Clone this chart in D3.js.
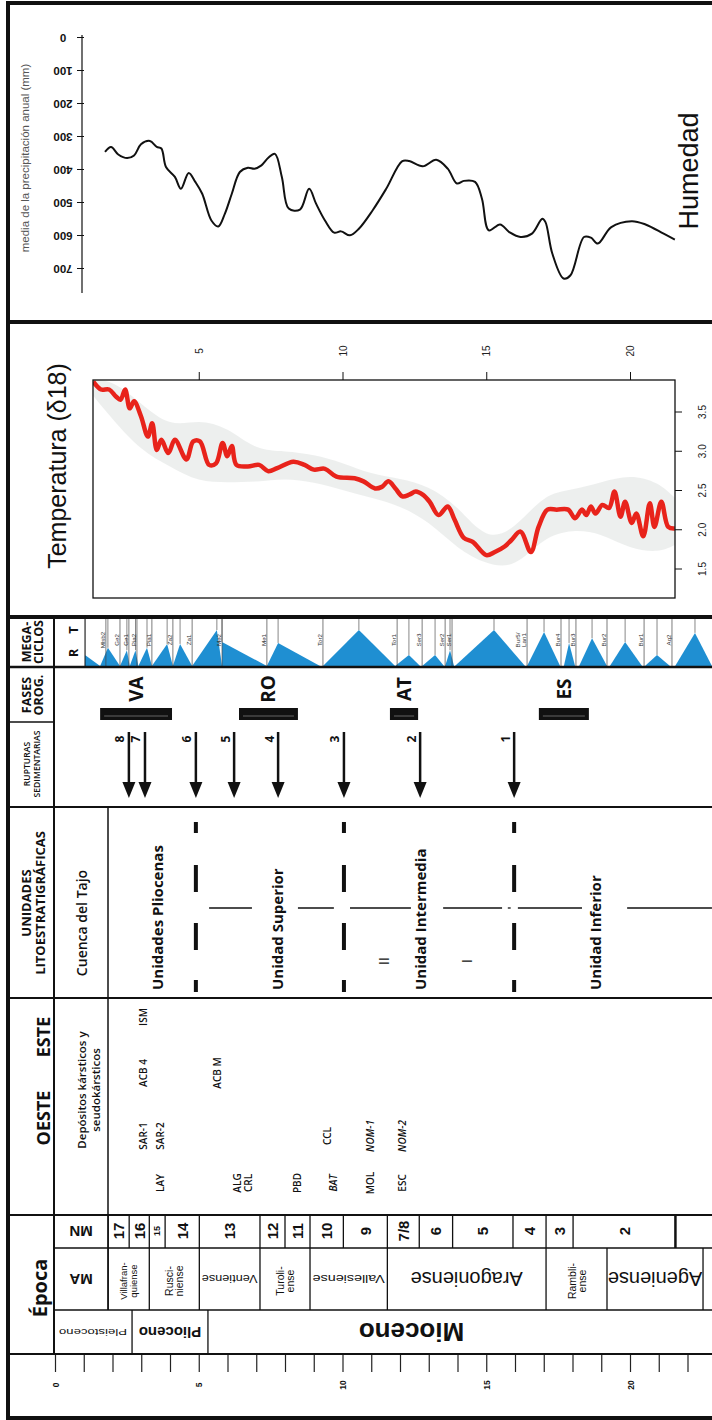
<!DOCTYPE html>
<html>
<head>
<meta charset="utf-8">
<script src="https://cdn.jsdelivr.net/npm/d3@7"></script>
<style>
  body { margin: 0; background: #fff; }
  svg { display: block; }
</style>
</head>
<body>
<div id="chart"></div>
<script>
// Ages in Ma
const humidMa = [1.74, 1.95, 2.2, 2.51, 2.75, 2.99, 3.3, 3.54, 3.7, 3.86, 4.17, 4.38, 4.65, 4.88, 5.12, 5.44, 5.68, 5.91, 6.15, 6.43, 6.71, 6.94, 7.18, 7.42, 7.65, 7.89, 8.13, 8.52, 8.84, 9.08, 9.39, 9.71, 9.95, 10.26, 10.57, 11.05, 11.52, 12.08, 12.32, 12.79, 13.26, 13.66, 13.98, 14.22, 14.61, 14.85, 15.09, 15.48, 15.8, 16.19, 16.59, 16.95, 17.06, 17.3, 17.69, 17.93, 18.4, 18.64, 18.88, 19.35, 20.06, 20.54, 21.17, 21.56];
const humidMm = [348, 333, 356, 367, 359, 325, 315, 333, 338, 394, 424, 460, 412, 439, 475, 556, 574, 535, 475, 409, 396, 399, 389, 366, 354, 424, 520, 523, 460, 505, 556, 593, 589, 601, 581, 525, 460, 376, 376, 392, 372, 399, 444, 436, 439, 490, 586, 568, 591, 606, 596, 551, 561, 657, 732, 722, 606, 608, 626, 576, 558, 568, 596, 614];
const humidTicks = [0, 100, 200, 300, 400, 500, 600, 700];

const tempMa = [1.33, 1.6, 1.88, 2.12, 2.28, 2.44, 2.6, 2.75, 2.99, 3.23, 3.38, 3.54, 3.7, 3.94, 4.17, 4.57, 4.81, 5.04, 5.36, 5.6, 5.83, 5.99, 6.15, 6.31, 6.71, 7.1, 7.42, 7.73, 8.29, 8.68, 9.0, 9.39, 9.79, 10.42, 10.73, 11.13, 11.37, 11.6, 11.84, 12.08, 12.32, 12.55, 12.79, 13.03, 13.34, 13.66, 13.9, 14.22, 14.53, 15.0, 15.3, 15.64, 15.87, 16.19, 16.55, 16.82, 17.13, 17.45, 17.85, 18.09, 18.33, 18.48, 18.64, 18.8, 19.04, 19.27, 19.46, 19.67, 19.83, 20.06, 20.22, 20.46, 20.69, 20.85, 21.09, 21.33, 21.56];
const tempD18 = [3.88, 3.78, 3.78, 3.69, 3.65, 3.78, 3.54, 3.63, 3.44, 3.18, 3.35, 3.01, 3.14, 2.97, 3.14, 2.89, 3.12, 3.12, 2.82, 2.84, 3.1, 2.93, 3.06, 2.82, 2.8, 2.82, 2.74, 2.78, 2.86, 2.82, 2.76, 2.77, 2.67, 2.65, 2.61, 2.52, 2.54, 2.61, 2.52, 2.42, 2.44, 2.48, 2.44, 2.35, 2.18, 2.29, 2.12, 1.89, 1.84, 1.67, 1.71, 1.78, 1.86, 1.97, 1.71, 2.03, 2.25, 2.25, 2.25, 2.14, 2.25, 2.18, 2.29, 2.2, 2.31, 2.27, 2.48, 2.16, 2.35, 2.08, 2.2, 1.91, 2.33, 2.03, 2.35, 2.03, 2.01];
// spread of the raw d18O points
const scatterMa = [1.33, 2, 3, 4, 5, 6, 7, 8, 9, 10, 11, 12, 13, 14, 15, 16, 17, 18, 19, 20, 21, 21.56];
const scatterHi = [3.9, 3.9, 3.6, 3.3, 3.4, 3.3, 3.0, 3.0, 2.95, 2.85, 2.7, 2.65, 2.55, 2.3, 1.85, 2.0, 2.45, 2.5, 2.6, 2.7, 2.6, 2.4];
const scatterLo = [3.7, 3.4, 3.0, 2.8, 2.6, 2.6, 2.6, 2.65, 2.6, 2.5, 2.4, 2.3, 2.1, 1.75, 1.55, 1.5, 1.9, 2.0, 1.95, 1.75, 1.7, 1.8];
const tempTopTicks = [5, 10, 15, 20];
const tempRightTicks = [1.5, 2.0, 2.5, 3.0, 3.5];

const megaStart = [1.04, 1.57, 2.26, 2.6, 2.9, 3.37, 4.1, 4.77, 5.81, 7.37, 9.32, 11.83, 12.77, 13.57, 13.91, 16.42, 17.7, 18.23, 19.3, 20.52, 21.57];
const megaPeak = [1.04, 1.84, 2.5, 2.8, 3.2, 3.9, 4.35, 5.63, 5.81, 7.76, 10.57, 12.31, 13.22, 13.74, 15.27, 17.01, 17.88, 18.68, 19.83, 20.94, 22.26];
const megaEnd = [1.57, 2.26, 2.6, 2.9, 3.37, 4.1, 4.77, 5.81, 7.37, 9.22, 11.83, 12.7, 13.53, 13.88, 16.35, 17.57, 18.09, 19.2, 20.42, 21.39, 22.85];
const megaAmp = [0.23, 0.38, 0.33, 0.33, 0.38, 0.46, 0.46, 0.75, 0.5, 0.48, 0.75, 0.23, 0.23, 0.33, 0.75, 0.71, 0.48, 0.58, 0.5, 0.23, 0.69];
const megaNames = ['Mlsb2', 'Ge2', 'Ge1', 'Pia2', 'Pia1', 'Za2', 'Za1', 'Me2', 'Me1', 'Tor2', 'Tor1', 'Ser3', 'Ser2', 'Ser1', 'Bur5/|Lan1', 'Bur4', 'Bur3', 'Bur2', 'Bur1', 'Aq2'];
const megaNameMa = [1.77, 2.26, 2.57, 2.85, 3.37, 4.1, 4.77, 5.81, 7.37, 9.32, 11.9, 12.77, 13.57, 13.81, 16.42, 17.6, 18.12, 19.2, 20.49, 21.46];

const faseNames = ['VA', 'RO', 'AT', 'ES'];
const faseStart = [1.57, 6.4, 11.65, 16.83];
const faseEnd = [4.07, 8.45, 12.63, 18.57];

const rupturaIds = ['8', '7', '6', '5', '4', '3', '2', '1'];
const rupturaMa = [2.57, 3.13, 4.9, 6.23, 7.76, 10.05, 12.7, 15.97];

const unitNames = ['Unidades Pliocenas', 'Unidad Superior', 'Unidad Intermedia', 'Unidad Inferior'];
const unitMa = [3.55, 7.72, 12.7, 18.78];
const unitBreaksMa = [4.9, 10.05, 15.97];
const subUnitNames = ['II', 'I'];
const subUnitMa = [11.44, 14.3];
const subUnitLineMa = [[5.36, 6.85], [8.45, 9.7], [10.26, 12.38], [13.5, 15.55], [15.75, 15.85], [16.1, 18.33], [19.9, 22.85]];

const depNames = ['ISM', 'ACB 4', 'SAR-1', 'SAR-2', 'LAY', 'ACB M', 'ALG', 'CRL', 'PBD', 'CCL', 'BAT', 'MOL', 'NOM-1', 'ESC', 'NOM-2'];
const depMa = [3.06, 3.06, 3.06, 3.65, 3.65, 5.63, 6.33, 6.71, 8.42, 9.46, 9.67, 10.96, 10.96, 12.07, 12.07];
const depRow = [0, 1, 2, 2, 3, 1, 3, 3, 3, 2, 3, 3, 2, 3, 2];
const depItalic = ['BAT', 'NOM-1', 'NOM-2'];

const mnNames = ['17', '16', '15', '14', '13', '12', '11', '10', '9', '7/8', '6', '5', '4', '3', '2'];
const mnBounds = [1.85, 2.58, 3.28, 3.83, 5.02, 7.13, 8.0, 8.87, 10.03, 11.56, 12.67, 13.83, 15.93, 17.08, 18.02, 21.58];

const stageNames = ['Villafran-|quiense', 'Rusci-|niense', 'Ventiense', 'Turoli-|ense', 'Vallesiense', 'Aragoniense', 'Rambli-|ense', 'Ageniense'];
const stageBounds = [1.85, 3.28, 5.02, 7.13, 8.87, 11.56, 17.08, 19.2, 22.54];

const epochNames = ['Pleistoceno', 'Plioceno', 'Mioceno'];
const epochBounds = [0, 2.68, 5.32, 23];
const epochLabelMa = [1.32, 4.0, 12.4];

const ageTicks = d3.range(0, 23);

const SANS = "'Liberation Sans', Arial, sans-serif";
const MYR = "'Open Sans', 'Noto Sans', sans-serif";
const INK = '#111';

const svg = d3.select('#chart')
    .append('svg')
    .attr('width', 712)
    .attr('height', 1420);

svg.append('rect').attr('width', 712).attr('height', 1420).attr('fill', '#fff');

const x = d3.scaleLinear().domain([0, 22]).range([55, 687.5]);

// rotated text helper
function label(px, py, s, rot, size, o = {}) {
    return svg.append('text')
        .attr('transform', `translate(${px},${py}) rotate(${rot})`)
        .attr('text-anchor', o.anchor || 'middle')
        .attr('dominant-baseline', 'central')
        .attr('font-family', o.font || SANS)
        .attr('font-size', size)
        .attr('font-weight', o.weight || 'normal')
        .attr('font-style', o.italic ? 'italic' : 'normal')
        .attr('fill', o.fill || INK)
        .text(s);
}
function twoLines(px, py, s, rot, size, gap, o = {}) {
    const parts = s.split('|');
    parts.forEach((p, i) => label(px + (i - (parts.length - 1) / 2) * gap, py, p, rot, size, o));
}
function hline(y, x1, x2, w) {
    svg.append('line').attr('x1', x1).attr('x2', x2).attr('y1', y).attr('y2', y)
        .attr('stroke', INK).attr('stroke-width', w);
}
function vline(xp, y1, y2, w, c) {
    svg.append('line').attr('x1', xp).attr('x2', xp).attr('y1', y1).attr('y2', y2)
        .attr('stroke', c || INK).attr('stroke-width', w);
}

// ---------- Humedad ----------
const yHum = d3.scaleLinear().domain([0, 700]).range([37, 268]);
const humAxis = svg.append('g')
    .attr('transform', 'translate(82,0)')
    .call(d3.axisLeft(yHum).tickValues(humidTicks).tickSize(5));
humAxis.select('.domain').remove();
humAxis.selectAll('.tick line').attr('stroke', INK).attr('x2', -5).attr('x1', 2);
humAxis.selectAll('.tick text')
    .attr('x', null).attr('dy', null)
    .attr('transform', 'translate(-19,0) rotate(180)')
    .attr('text-anchor', 'middle')
    .attr('dominant-baseline', 'central')
    .attr('font-family', SANS).attr('font-size', 11.5).attr('font-weight', 'bold')
    .attr('fill', INK);
vline(82, 35, 293, 1.2);

label(25, 158, 'media de la precipitación anual (mm)', -90, 11.5, { fill: '#555' });
label(689, 171, 'Humedad', -90, 27);

svg.append('path')
    .datum(humidMa.map((m, i) => [m, humidMm[i]]))
    .attr('d', d3.line().x(d => x(d[0])).y(d => yHum(d[1])).curve(d3.curveCatmullRom.alpha(0.5)))
    .attr('fill', 'none').attr('stroke', INK).attr('stroke-width', 2);

// ---------- Temperatura ----------
const yT = d3.scaleLinear().domain([1.5, 3.5]).range([568.5, 411.5]);
const box = { x0: 93, x1: 675, y0: 380, y1: 598 };

svg.append('clipPath').attr('id', 'tclip').append('rect')
    .attr('x', box.x0).attr('y', box.y0).attr('width', box.x1 - box.x0).attr('height', box.y1 - box.y0);

const tg = svg.append('g').attr('clip-path', 'url(#tclip)');
tg.append('path')
    .datum(scatterMa.map((m, i) => [m, scatterLo[i], scatterHi[i]]))
    .attr('d', d3.area().x(d => x(d[0])).y0(d => yT(d[1])).y1(d => yT(d[2])).curve(d3.curveBasis))
    .attr('fill', '#8f9c96').attr('opacity', 0.16);
tg.append('path')
    .datum(tempMa.map((m, i) => [m, tempD18[i]]))
    .attr('d', d3.line().x(d => x(d[0])).y(d => yT(d[1])).curve(d3.curveCatmullRom.alpha(0.5)))
    .attr('fill', 'none').attr('stroke', '#e8231b').attr('stroke-width', 4.5)
    .attr('stroke-linejoin', 'round');

svg.append('rect')
    .attr('x', box.x0).attr('y', box.y0).attr('width', box.x1 - box.x0).attr('height', box.y1 - box.y0)
    .attr('fill', 'none').attr('stroke', INK).attr('stroke-width', 1.3);

const topAxis = svg.append('g')
    .attr('transform', `translate(0,${box.y0})`)
    .call(d3.axisTop(x).tickValues(tempTopTicks).tickSize(8));
topAxis.select('.domain').remove();
topAxis.selectAll('.tick line').attr('stroke', INK);
topAxis.selectAll('.tick text')
    .attr('y', null).attr('dy', null)
    .attr('transform', 'translate(0,-29) rotate(-90)')
    .attr('text-anchor', 'middle').attr('dominant-baseline', 'central')
    .attr('font-family', SANS).attr('font-size', 10).attr('fill', '#222');

const rightAxis = svg.append('g')
    .attr('transform', `translate(${box.x1},0)`)
    .call(d3.axisRight(yT).tickValues(tempRightTicks).tickFormat(d3.format('.1f')).tickSize(7));
rightAxis.select('.domain').remove();
rightAxis.selectAll('.tick line').attr('stroke', INK);
rightAxis.selectAll('.tick text')
    .attr('x', null).attr('dy', null)
    .attr('transform', 'translate(27,0) rotate(-90)')
    .attr('text-anchor', 'middle').attr('dominant-baseline', 'central')
    .attr('font-family', SANS).attr('font-size', 10).attr('fill', '#222');

label(57, 466, 'Temperatura (δ18)', -90, 25);

// ---------- Megaciclos ----------
const yMega = d3.scaleLinear().domain([0, 1]).range([666, 618]);
svg.append('clipPath').attr('id', 'mclip').append('rect')
    .attr('x', 85).attr('y', 617).attr('width', 640).attr('height', 50);
const mg = svg.append('g').attr('clip-path', 'url(#mclip)');
mg.selectAll('path.tri')
    .data(megaStart.map((s, i) => ({ s, p: megaPeak[i], e: megaEnd[i], a: megaAmp[i] })))
    .enter()
    .append('path')
    .attr('class', 'tri')
    .attr('d', d => `M${x(d.s)},${yMega(0)}L${x(d.p)},${yMega(d.a)}L${x(d.e)},${yMega(0)}Z`)
    .attr('fill', '#1f8fd2');
mg.selectAll('line.peak')
    .data(megaPeak.map((p, i) => ({ p, a: megaAmp[i] })))
    .enter()
    .append('line')
    .attr('class', 'peak')
    .attr('x1', d => x(d.p)).attr('x2', d => x(d.p))
    .attr('y1', yMega(1)).attr('y2', d => yMega(d.a))
    .attr('stroke', '#555').attr('stroke-width', 0.7);
mg.selectAll('line.bound')
    .data(megaNameMa)
    .enter()
    .append('line')
    .attr('class', 'bound')
    .attr('x1', d => x(d)).attr('x2', d => x(d))
    .attr('y1', yMega(1)).attr('y2', yMega(0))
    .attr('stroke', '#444').attr('stroke-width', 0.7);
megaNames.forEach((n, i) => {
    const parts = n.split('|');
    parts.forEach((p, j) => {
        label(x(megaNameMa[i]) - 3.2 - (parts.length - 1 - j) * 6, 640, p, -90, 6.2, { fill: '#333' });
    });
});
label(73, 630, 'T', -90, 13, { font: MYR, weight: 'bold' });
label(73, 653, 'R', -90, 13, { font: MYR, weight: 'bold' });

// ---------- Fases orogénicas ----------
faseNames.forEach((n, i) => {
    const x0 = x(faseStart[i]), x1 = x(faseEnd[i]);
    svg.append('rect').attr('x', x0).attr('y', 708).attr('width', x1 - x0).attr('height', 12).attr('fill', INK);
    svg.append('line').attr('x1', x0 + 4).attr('x2', x1 - 4).attr('y1', 716).attr('y2', 716)
        .attr('stroke', '#3a3a3a').attr('stroke-width', 2);
    label((x0 + x1) / 2, 689, n, -90, 19, { font: MYR, weight: 'bold' });
});

// ---------- Rupturas sedimentarias ----------
rupturaMa.forEach((m, i) => {
    const xp = x(m);
    vline(xp, 732, 786, 2.5);
    svg.append('path').attr('d', `M${xp - 6.5},${782}L${xp + 6.5},${782}L${xp},${798}Z`).attr('fill', INK);
    label(xp - 9, 739, rupturaIds[i], -90, 12, { font: MYR, weight: 'bold' });
});

// ---------- Unidades litoestratigráficas ----------
unitBreaksMa.forEach(m => {
    svg.append('line')
        .attr('x1', x(m)).attr('x2', x(m)).attr('y1', 822).attr('y2', 992)
        .attr('stroke', INK).attr('stroke-width', 4)
        .attr('stroke-dasharray', '11,32,27,31,27,30,12');
});
subUnitLineMa.forEach(s => hline(908, x(s[0]), x(s[1]), 1.3));
unitNames.forEach((n, i) => label(x(unitMa[i]), 990, n, -90, 15, { font: MYR, weight: 'bold', anchor: 'start' }));
subUnitNames.forEach((n, i) => label(x(subUnitMa[i]), 961, n, -90, 14, { font: MYR }));

// ---------- Depósitos kársticos ----------
const depRowY = [1017, 1073, 1136, 1183];
depNames.forEach((n, i) => {
    label(x(depMa[i]), depRowY[depRow[i]], n, -90, 10, { font: MYR, weight: 600, italic: depItalic.includes(n) });
});

// ---------- MN / MA / Época ----------
mnNames.forEach((n, i) => {
    const x0 = x(mnBounds[i]), x1 = x(mnBounds[i + 1]);
    label((x0 + x1) / 2, 1231, n, -90, (x1 - x0) < 18 ? 9 : 15, { weight: 'bold' });
});
mnBounds.forEach((m, i) => vline(x(m), 1215, 1248, i === mnBounds.length - 1 ? 2.5 : 1.3));

stageNames.forEach((n, i) => {
    const x0 = x(stageBounds[i]), x1 = x(stageBounds[i + 1]);
    const cx = (x0 + x1) / 2;
    if (n.includes('|')) {
        twoLines(cx, 1281, n, -90, (x1 - x0) > 45 ? 10.5 : 9.5, 10);
    } else {
        const t = label(cx, 1279, n, 180, (x1 - x0) > 90 ? 20 : 11.5);
        if ((x1 - x0) < 90) t.attr('textLength', x1 - x0 - 5).attr('lengthAdjust', 'spacingAndGlyphs');
    }
});
stageBounds.forEach(m => vline(x(m), 1248, 1310, 1.3));

epochNames.forEach((n, i) => {
    const size = [9, 15, 26][i];
    const t = label(x(epochLabelMa[i]), 1332, n, 180, size, { weight: i ? 'bold' : 'normal' });
    if (i === 0) t.attr('textLength', 68).attr('lengthAdjust', 'spacingAndGlyphs');
});
epochBounds.slice(1, 3).forEach(m => vline(x(m), 1310, 1354, 1.3));

label(81, 1231, 'MN', 180, 15, { weight: 'bold' });
label(81, 1279, 'MA', 180, 15, { weight: 'bold' });
label(39, 1288, 'Época', -90, 20, { font: MYR, weight: 'bold' });

// bottom age axis
const ageAxis = svg.append('g')
    .attr('transform', 'translate(0,1354)')
    .call(d3.axisBottom(x).tickValues(ageTicks).tickSize(18).tickFormat(d => d % 5 === 0 ? d : ''));
ageAxis.select('.domain').remove();
ageAxis.selectAll('.tick line').attr('stroke', '#222').attr('stroke-width', 1.2);
ageAxis.selectAll('.tick text')
    .attr('y', null).attr('dy', null)
    .attr('transform', 'translate(0,31) rotate(-90)')
    .attr('text-anchor', 'middle').attr('dominant-baseline', 'central')
    .attr('font-family', SANS).attr('font-size', 8.5).attr('font-weight', 'bold').attr('fill', INK);

// ---------- header column texts ----------
twoLines(32, 642, 'MEGA-|CICLOS', -90, 12.5, 12, { font: MYR, weight: 'bold' });
twoLines(32, 695, 'FASES|OROG.', -90, 12.5, 12, { font: MYR, weight: 'bold' });
twoLines(32, 764, 'RUPTURAS|SEDIMENTARIAS', -90, 8.6, 10, { font: MYR, weight: 600 });
twoLines(33, 903, 'UNIDADES|LITOESTRATIGRÁFICAS', -90, 13, 13.5, { font: MYR, weight: 'bold' });
label(81, 923, 'Cuenca  del Tajo', -90, 14, { font: MYR, weight: 600 });
label(43, 1037, 'ESTE', -90, 18, { font: MYR, weight: 'bold' });
label(43, 1118, 'OESTE', -90, 18, { font: MYR, weight: 'bold' });
twoLines(88, 1090, 'Depósitos kársticos y|seudokársticos', -90, 11.5, 14, { font: MYR, weight: 600 });

// ---------- grid lines & frame ----------
hline(322, 8, 712, 4);
hline(617, 8, 712, 4);
hline(667, 8, 712, 2.5);
hline(722, 8, 54, 1.5);
hline(807, 8, 712, 2);
hline(998, 8, 712, 2);
hline(1215, 8, 712, 2);
hline(1248, 54, 712, 1.5);
hline(1310, 54, 712, 1.5);
hline(1354, 8, 712, 2);
vline(54, 617, 1354, 2);
vline(108, 807, 1310, 1.5);
vline(85, 617, 667, 1);

svg.append('rect')
    .attr('x', 8).attr('y', 3).attr('width', 712).attr('height', 1415)
    .attr('fill', 'none').attr('stroke', INK).attr('stroke-width', 4);
</script>
</body>
</html>
